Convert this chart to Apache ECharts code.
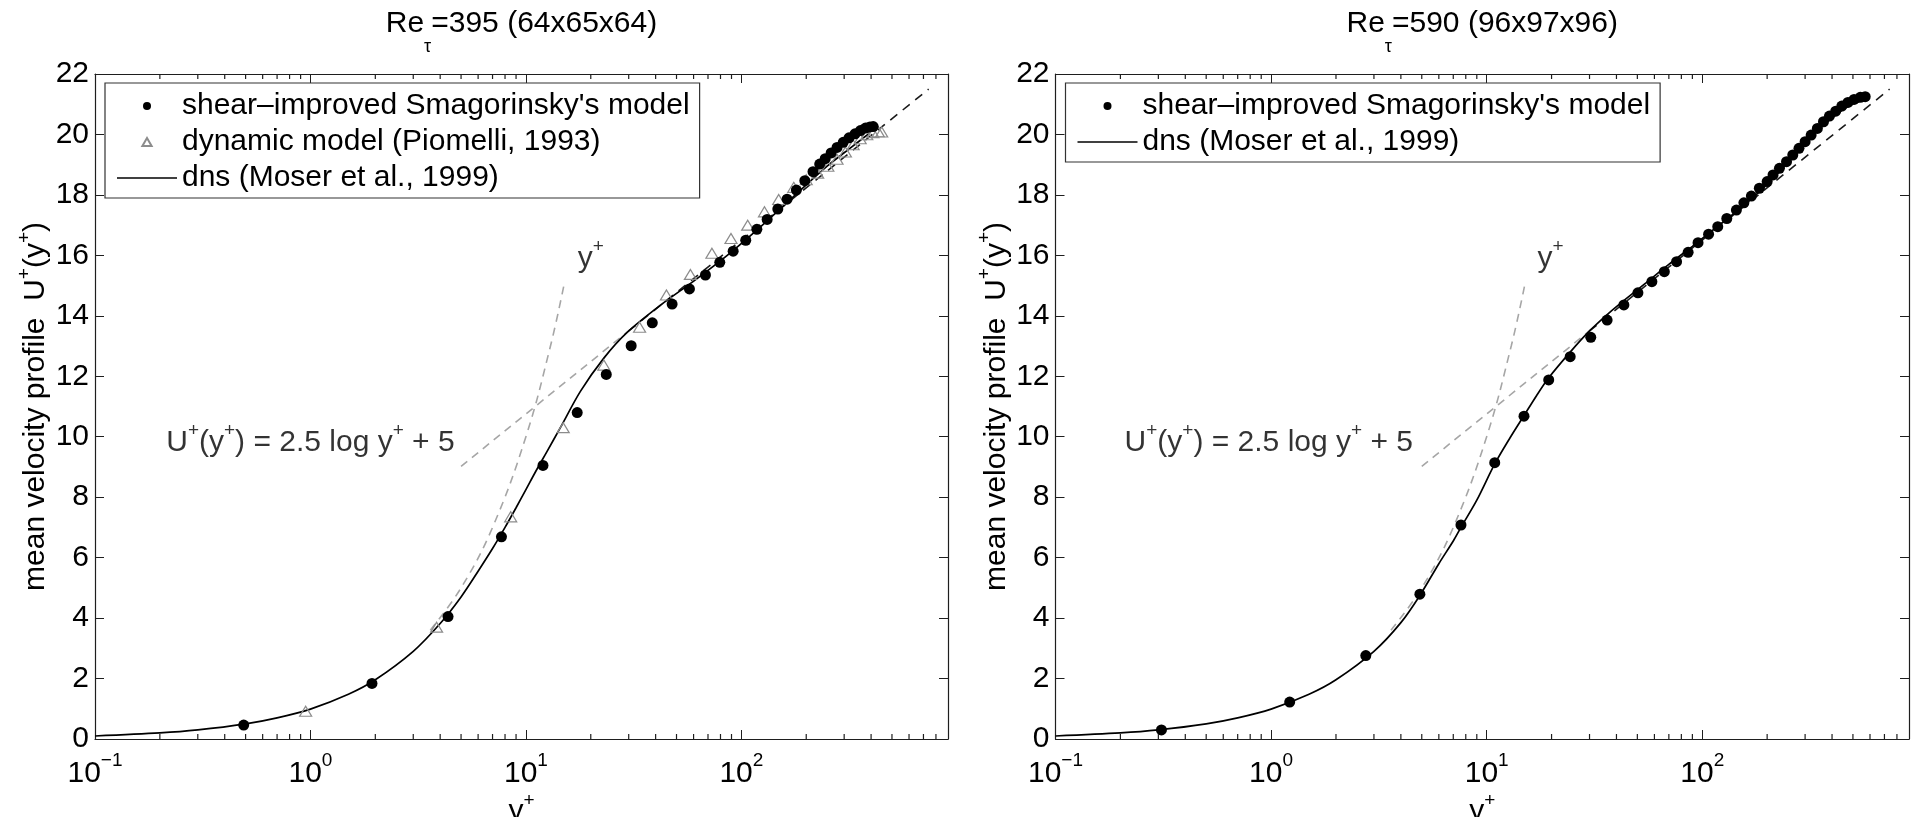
<!DOCTYPE html>
<html>
<head>
<meta charset="utf-8">
<script src="https://cdn.jsdelivr.net/npm/echarts@6/dist/echarts.min.js"></script>
<style>
  html, body { margin: 0; padding: 0; background: #fff; overflow: hidden; width: 1912px; height: 817px; }
  #chart { width: 1912px; height: 817px; }
</style>
</head>
<body>
<div id="chart"></div>
<script>
// ---------------- data ----------------
// mean velocity profile U+(y+), pairs of [y+, U+]

// Re_tau = 395, grid 64x65x64
const siSmagRe395 = [
  [0.49, 0.46], [1.93, 1.84], [4.35, 4.05], [7.7, 6.69], [12.0, 9.05], [17.3, 10.8],
  [23.6, 12.06], [30.8, 13.01], [38.6, 13.77], [47.7, 14.39], [57.4, 14.89], [68.1, 15.35],
  [79.4, 15.77], [91.6, 16.14], [104.8, 16.5], [118, 16.86], [131.7, 17.19], [147.6, 17.53],
  [163, 17.86], [180, 18.16], [197, 18.47], [215, 18.77], [231, 19.02], [245, 19.2],
  [261, 19.39], [278, 19.57], [297, 19.74], [316, 19.89], [337, 20.02], [357, 20.13],
  [377, 20.21], [395, 20.25], [409, 20.26]
];
const dynamicRe395 = [
  [0.95, 0.92], [3.85, 3.7], [8.5, 7.35], [14.9, 10.3], [23, 12.37], [33.7, 13.62],
  [44.9, 14.69], [58, 15.37], [73, 16.07], [89.5, 16.56], [107, 17.0], [128, 17.44],
  [149, 17.85], [175, 18.25], [200, 18.5], [226, 18.72], [252, 18.95], [278, 19.18],
  [304, 19.42], [330, 19.66], [356, 19.86], [382, 19.99], [408, 20.06], [432, 20.09], [448, 20.08]
];
const dnsRe395 = [
  [0.1, 0.1], [0.2, 0.2], [0.3, 0.3], [0.5, 0.5], [0.7, 0.7], [1, 0.99], [1.5, 1.48],
  [2, 1.96], [3, 2.9], [4, 3.82], [5, 4.7], [6, 5.55], [7, 6.3], [8, 7.0], [9, 7.65],
  [10, 8.25], [11.1, 8.85], [12.5, 9.5], [14.45, 10.3], [17.9, 11.5], [23, 12.6],
  [29.5, 13.45], [42.1, 14.35], [60.1, 15.15], [86, 16.0], [123, 16.95], [175, 17.95],
  [250, 18.95], [320, 19.55], [395, 20.05]
];

// Re_tau = 590, grid 96x97x96
const siSmagRe590 = [
  [0.31, 0.3], [1.22, 1.22], [2.75, 2.76], [4.9, 4.79], [7.6, 7.08], [10.9, 9.14],
  [14.9, 10.68], [19.4, 11.88], [24.4, 12.65], [30.4, 13.29], [36.2, 13.86], [43.3, 14.36],
  [50.3, 14.76], [58.4, 15.13], [66.7, 15.46], [76, 15.79], [86, 16.1], [95.6, 16.42],
  [107, 16.7], [118, 16.95], [130, 17.22], [144, 17.5], [156, 17.74], [169, 17.96],
  [184, 18.22], [200, 18.44], [213, 18.66], [228, 18.88], [246, 19.1], [263, 19.32],
  [281, 19.54], [300, 19.76], [320, 19.98], [342, 20.2], [365, 20.42], [389, 20.61],
  [416, 20.77], [444, 20.94], [474, 21.06], [506, 21.16], [541, 21.23], [570, 21.25]
];
const dnsRe590 = [
  [0.1, 0.1], [0.2, 0.2], [0.3, 0.3], [0.5, 0.5], [0.7, 0.7], [1, 0.99], [1.5, 1.48],
  [2, 1.96], [3, 2.9], [4, 3.85], [4.9, 4.75], [6, 5.8], [7, 6.55], [7.6, 7.0], [9, 7.9],
  [10.9, 9.1], [12.8, 9.95], [14.9, 10.7], [17, 11.35], [19.4, 11.95], [24.4, 12.8],
  [30, 13.5], [37, 14.1], [45, 14.6], [55, 15.1], [70, 15.7], [90, 16.3], [115, 16.9],
  [150, 17.55], [200, 18.35], [260, 19.2], [330, 20.0], [400, 20.55], [480, 20.95],
  [540, 21.1], [587, 21.15]
];

// reference laws (dashed): viscous sublayer U+ = y+ and log law U+ = 2.5 log y+ + 5
const viscousLaw = [[3.6, 3.6], [5, 5], [7, 7], [10, 10], [13, 13], [15, 15]];
const logLawNearWall = [[5, 9.02], [30, 13.5]];
const logLawOuter = [[30, 13.5], [740, 21.5]];

// axes
const xMin = 0.1, xMax = 910;
const yMin = 0, yMax = 22, yStep = 2;
const minorTickValues = [
  0.2, 0.3, 0.4, 0.5, 0.6, 0.7, 0.8, 0.9,
  2, 3, 4, 5, 6, 7, 8, 9,
  20, 30, 40, 50, 60, 70, 80, 90,
  200, 300, 400, 500, 600, 700, 800
];

// panel captions
const panelRe = ['395', '590'];
const panelGrid = ['64x65x64', '96x97x96'];

// series names
const nameSI = "shear\u2013improved Smagorinsky's model";
const nameDyn = 'dynamic model (Piomelli, 1993)';
const nameDns = 'dns (Moser et al., 1999)';

// ---------------- chart ----------------
const FONT = '"Liberation Sans", Arial, Helvetica, sans-serif';
const FS = 30;         // main text size
const FS_SUP = 19;     // superscript size
const INK = '#000';
const FRAME = '#1e1e1e';

const grids = [
  { left: 95, top: 74, width: 853, height: 665 },
  { left: 1055.5, top: 74, width: 853.5, height: 665 }
];

const tickRich = {
  b: { fontSize: FS, lineHeight: 38, verticalAlign: 'bottom', fontFamily: FONT, color: INK },
  e: { fontSize: FS_SUP, verticalAlign: 'top', fontFamily: FONT, color: INK }
};
const textRich = {
  t: { fontSize: FS, lineHeight: 36, verticalAlign: 'bottom', fontFamily: FONT, color: INK },
  p: { fontSize: FS_SUP, verticalAlign: 'top', fontFamily: FONT, color: INK }
};

function powerLabel(v) {
  const e = Math.round(Math.log10(v));
  if (Math.abs(v / Math.pow(10, e) - 1) > 1e-6) return '';
  return '{b|10}{e|' + (e < 0 ? '\u2212' + (-e) : e) + '}';
}

const xAxes = [], yAxes = [], series = [], legends = [], graphics = [];

// anchors of the law captions are given in data units (y+, U+)
const panels = [
  { si: siSmagRe395, dyn: dynamicRe395, dns: dnsRe395, logAnchor: [0.213, 9.9], yAnchor: [17.3, 16.0] },
  { si: siSmagRe590, dyn: null, dns: dnsRe590, logAnchor: [0.208, 9.9], yAnchor: [17.1, 16.0] }
];

panels.forEach((p, i) => {
  const g = grids[i];
  const xb = 2 * i;
  const baseTick = { show: true, inside: true, length: 9, lineStyle: { color: FRAME, width: 1 } };
  const baseLine = { show: true, onZero: false, lineStyle: { color: FRAME, width: 1.2 } };

  xAxes.push({
    type: 'log', logBase: 10, gridIndex: i, position: 'bottom', min: xMin, max: xMax,
    axisLine: baseLine, axisTick: baseTick, splitLine: { show: false }, minorTick: { show: false },
    axisLabel: { show: true, margin: 12, formatter: powerLabel, rich: tickRich, fontFamily: FONT, color: INK },
    name: '{t|y}{p|+}', nameLocation: 'middle', nameGap: 52, nameMoveOverlap: false,
    nameTextStyle: { rich: textRich, fontFamily: FONT, color: INK }
  });
  xAxes.push({
    type: 'log', logBase: 10, gridIndex: i, position: 'top', min: xMin, max: xMax,
    axisLine: baseLine, axisTick: baseTick, axisLabel: { show: false },
    splitLine: { show: false }, minorTick: { show: false }
  });
  yAxes.push({
    type: 'value', gridIndex: i, position: 'left', min: yMin, max: yMax, interval: yStep,
    axisLine: baseLine, axisTick: baseTick, splitLine: { show: false },
    axisLabel: { show: true, margin: 6, fontSize: FS, fontFamily: FONT, color: INK },
    name: '{t|mean velocity profile  U}{p|+}{t|(y}{p|+}{t|)}',
    nameLocation: 'middle', nameRotate: 90, nameGap: 44, nameMoveOverlap: false,
    nameTextStyle: { rich: textRich, fontFamily: FONT, color: INK }
  });
  yAxes.push({
    type: 'value', gridIndex: i, position: 'right', min: yMin, max: yMax, interval: yStep,
    axisLine: baseLine, axisTick: baseTick, axisLabel: { show: false }, splitLine: { show: false }
  });

  const common = { xAxisIndex: xb, yAxisIndex: xb, silent: true, animation: false, emphasis: { disabled: true } };

  // dashed reference laws
  series.push(Object.assign({
    type: 'line', data: viscousLaw, smooth: 0.4, symbol: 'none', z: 1,
    lineStyle: { color: '#a6a6a6', width: 1.6, type: [8, 6] }
  }, common));
  series.push(Object.assign({
    type: 'line', data: logLawNearWall, symbol: 'none', z: 1,
    lineStyle: { color: '#a6a6a6', width: 1.6, type: [8, 6] }
  }, common));
  series.push(Object.assign({
    type: 'line', data: logLawOuter, symbol: 'none', z: 1,
    lineStyle: { color: '#1a1a1a', width: 1.6, type: [9, 7] }
  }, common));

  // DNS profile
  series.push(Object.assign({
    type: 'line', name: nameDns, data: p.dns, smooth: 0.3, symbol: 'none', z: 2,
    color: '#000', lineStyle: { color: '#000', width: 1.7 }, itemStyle: { color: '#000', borderWidth: 0 }
  }, common));

  // dynamic model
  if (p.dyn) {
    series.push(Object.assign({
      type: 'scatter', name: nameDyn, data: p.dyn, symbol: 'triangle', symbolSize: [12, 10], z: 3,
      itemStyle: { color: 'transparent', borderColor: '#8c8c8c', borderWidth: 1.2, opacity: 1 }
    }, common));
  }

  // shear-improved Smagorinsky
  series.push(Object.assign({
    type: 'scatter', name: nameSI, data: p.si, symbol: 'circle', symbolSize: 11, z: 4,
    itemStyle: { color: '#000', opacity: 1 }
  }, common));

  // log-axis minor ticks along bottom and top edges
  series.push(Object.assign({
    type: 'scatter', data: minorTickValues.map(v => [v, yMin]), symbol: 'rect',
    symbolSize: [1.2, 5], symbolOffset: [0, -2.5], z: 5, itemStyle: { color: FRAME, opacity: 1 }
  }, common));
  series.push(Object.assign({
    type: 'scatter', data: minorTickValues.map(v => [v, yMax]), symbol: 'rect',
    symbolSize: [1.2, 5], symbolOffset: [0, 2.5], z: 5, itemStyle: { color: FRAME, opacity: 1 }
  }, common));

  // text annotations of the reference laws
  series.push(Object.assign({
    type: 'scatter', data: [p.logAnchor], symbolSize: 1, z: 6, itemStyle: { color: 'transparent' },
    label: { show: true, position: 'right', distance: 0,
      formatter: '{t|U}{p|+}{t|(y}{p|+}{t|) = 2.5 log y}{p|+}{t| + 5}', rich: textRich }
  }, common));
  series.push(Object.assign({
    type: 'scatter', data: [p.yAnchor], symbolSize: 1, z: 6, itemStyle: { color: 'transparent' },
    label: { show: true, position: 'right', distance: 0, formatter: '{t|y}{p|+}', rich: textRich }
  }, common));

  // legend
  const items = [{ name: nameSI, icon: 'circle' }];
  if (p.dyn) items.push({ name: nameDyn, icon: 'path://M5,0L10,8.66L0,8.66Z' });
  items.push({ name: nameDns, icon: 'path://M0,0H60V1.6H0Z', itemStyle: { borderWidth: 0 } });
  legends.push({
    data: items, orient: 'vertical', left: g.left + 10, top: 83,
    padding: [8, 10, 5, 12], itemWidth: 60, itemHeight: 8, itemGap: 6,
    symbolKeepAspect: true,
    backgroundColor: '#fff', borderColor: '#333', borderWidth: 1.2, borderRadius: 0,
    selectedMode: false, inactiveColor: '#000',
    textStyle: { fontSize: FS, lineHeight: 30, color: INK, fontFamily: FONT }
  });

  // panel caption Re_tau = ... (grid)
  graphics.push({
    type: 'text', x: g.left + g.width / 2, y: 9, silent: true,
    style: {
      text: '{a|Re}{s|\u03c4}{a|=' + panelRe[i] + ' (' + panelGrid[i] + ')}',
      align: 'center', verticalAlign: 'top',
      rich: {
        a: { fontSize: FS, lineHeight: 47, verticalAlign: 'top', fontFamily: FONT, fill: INK },
        s: { fontSize: 18, verticalAlign: 'bottom', fontFamily: FONT, fill: INK }
      }
    }
  });
});

const chart = echarts.init(document.getElementById('chart'), null, { renderer: 'canvas' });
chart.setOption({
  animation: false,
  backgroundColor: '#fff',
  textStyle: { fontFamily: FONT },
  grid: grids.map(g => Object.assign({ containLabel: false, outerBoundsMode: 'none' }, g)),
  xAxis: xAxes,
  yAxis: yAxes,
  legend: legends,
  graphic: graphics,
  series: series
});
</script>
</body>
</html>
